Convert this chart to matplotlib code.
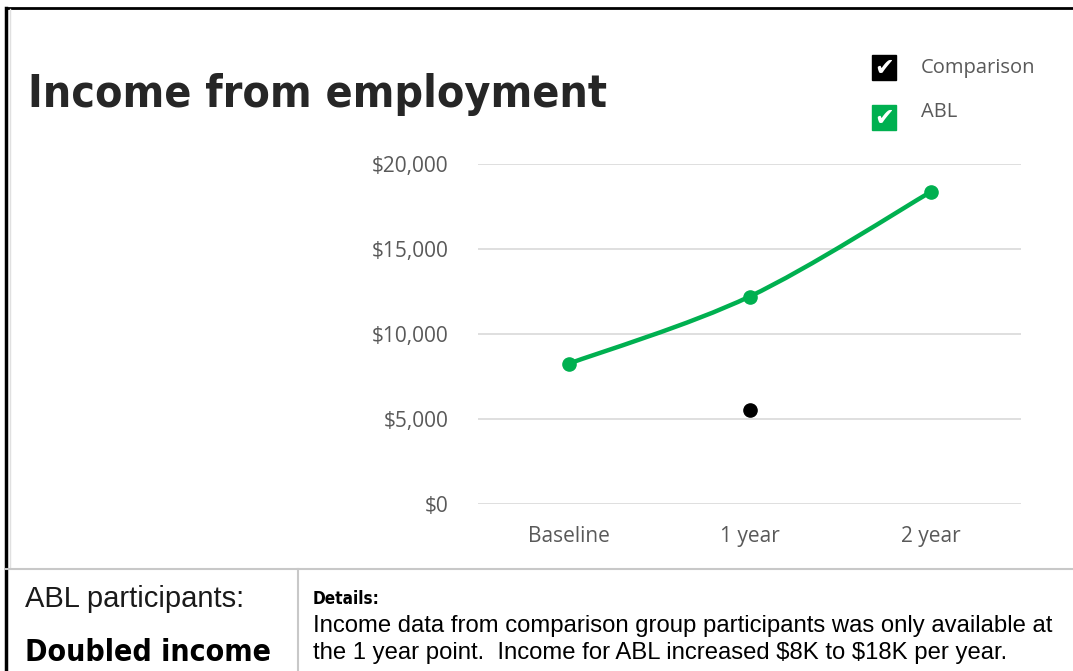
import matplotlib.pyplot as plt
from matplotlib.lines import Line2D
from matplotlib.patches import Rectangle, PathPatch
from matplotlib.path import Path
from matplotlib.ticker import FuncFormatter

# Chart data
periods = ["Baseline", "1 year", "2 year"]
abl_income = [8250, 12200, 18350]
comparison_period = "1 year"
comparison_income = [5550]
y_ticks = [0, 5000, 10000, 15000, 20000]

GREEN = "#00B050"
GREY_TXT = "#595959"
W, H = 1073, 671

fig = plt.figure(figsize=(W / 100, H / 100), dpi=100)
fig.patch.set_facecolor("white")


def fx(px):
    return px / W


def fy(py):
    return 1 - py / H


# Plot area
ax = fig.add_axes([fx(478), fy(504), fx(1021) - fx(478), fy(164) - fy(504)])
xs = list(range(len(periods)))

# smoothed line (Excel style) built as a bezier path through the data points
pts = list(zip(xs, abl_income))
verts = [pts[0]]
codes = [Path.MOVETO]
for i in range(len(pts) - 1):
    p0 = pts[max(i - 1, 0)]
    p1 = pts[i]
    p2 = pts[i + 1]
    p3 = pts[min(i + 2, len(pts) - 1)]
    c1 = (p1[0] + (p2[0] - p0[0]) / 6, p1[1] + (p2[1] - p0[1]) / 6)
    c2 = (p2[0] - (p3[0] - p1[0]) / 6, p2[1] - (p3[1] - p1[1]) / 6)
    verts += [c1, c2, p2]
    codes += [Path.CURVE4] * 3
ax.add_patch(PathPatch(Path(verts, codes), fill=False, edgecolor=GREEN,
                       lw=3.2, capstyle="round", zorder=3))
ax.plot(xs, abl_income, "o", color=GREEN, markersize=9.5, zorder=4)

cx = [periods.index(comparison_period)]
ax.plot(cx, comparison_income, "o", color="black", markersize=9.5, zorder=4)

ax.set_xlim(-0.5, len(periods) - 0.5)
ax.set_ylim(0, 20000)
ax.set_yticks(y_ticks)
ax.yaxis.set_major_formatter(FuncFormatter(lambda v, p: f"\\${v:,.0f}"))
ax.set_xticks(xs)
ax.set_xticklabels(periods)
ax.grid(axis="y", color="#D9D9D9", lw=1.2)
ax.set_axisbelow(True)
for s in ax.spines.values():
    s.set_visible(False)
ax.tick_params(length=0, labelsize=15, labelcolor=GREY_TXT)
ax.tick_params(axis="x", pad=16)
ax.tick_params(axis="y", pad=21)
for lab in ax.get_xticklabels() + ax.get_yticklabels():
    lab.set_fontfamily("Open Sans")

# Title
fig.text(fx(28), fy(107), "Income from employment", fontsize=32,
         fontweight="bold", fontstretch="condensed", family="DejaVu Sans",
         color="#262626", va="baseline", ha="left")

# Legend with check boxes
for py, ty, col, name in [(55, 68, "black", "Comparison"), (105, 112, GREEN, "ABL")]:
    fig.patches.append(Rectangle((fx(872), fy(py + 25)), fx(24), fy(0) - fy(25),
                                 transform=fig.transFigure, color=col))
    fig.text(fx(884), fy(py + 13), "\u2714", color="white", fontsize=17,
             family="DejaVu Sans", ha="center", va="center")
    fig.text(fx(921), fy(ty), name, color=GREY_TXT, fontsize=14.5,
             family="Open Sans", ha="left", va="center")

# Frame lines
fig.add_artist(Line2D([fx(6), fx(6)], [0, fy(8)], color="black", lw=2.5))
fig.add_artist(Line2D([fx(6), 1], [fy(8), fy(8)], color="black", lw=2))
fig.add_artist(Line2D([fx(10), fx(10)], [fy(568), fy(9)], color="#E0E0E0", lw=1))
fig.add_artist(Line2D([fx(6), 1], [fy(569), fy(569)], color="#C8C8C8", lw=1.5))
fig.add_artist(Line2D([fx(298), fx(298)], [0, fy(569)], color="#C8C8C8", lw=1.5))

# Bottom panel
fig.text(fx(25), fy(607), "ABL participants:", fontsize=21,
         family="Liberation Sans", color="#1a1a1a", va="baseline")
fig.text(fx(25), fy(661), "Doubled income", fontsize=21.7, fontweight="bold",
         fontstretch="condensed", family="DejaVu Sans", color="black",
         va="baseline")
fig.text(fx(313), fy(604), "Details:", fontsize=12.3, fontweight="bold",
         fontstretch="condensed", family="DejaVu Sans", color="black",
         va="baseline")
fig.text(fx(313), fy(632),
         "Income data from comparison group participants was only available at",
         fontsize=17.2, family="Liberation Sans", color="black", va="baseline")
fig.text(fx(313), fy(659),
         "the 1 year point.  Income for ABL increased \\$8K to \\$18K per year.",
         fontsize=17.2, family="Liberation Sans", color="black", va="baseline")

fig.savefig("out.png", dpi=100)
